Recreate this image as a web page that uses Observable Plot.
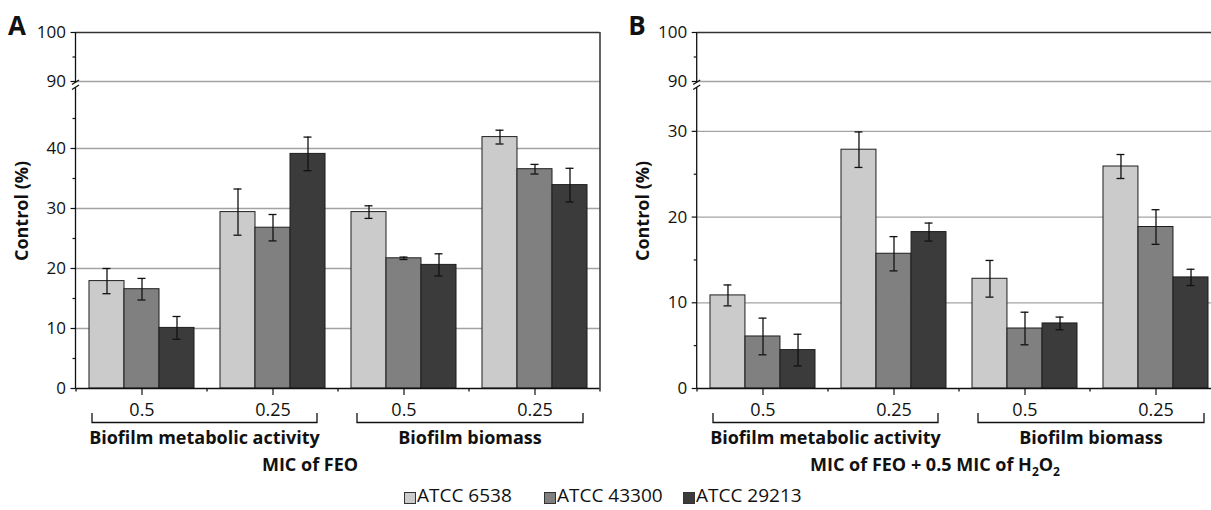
<!DOCTYPE html>
<html>
<head>
<meta charset="utf-8">
<script src="https://cdn.jsdelivr.net/npm/d3@7"></script>
<script src="https://cdn.jsdelivr.net/npm/@observablehq/plot@0.6"></script>
<style>
  body { margin: 0; background: #fff; }
  #wrap { position: relative; width: 1211px; height: 510px; overflow: hidden; font-family: "Open Sans", sans-serif; color: #111; }
  #wrap svg.panel { position: absolute; top: 0; }
  .leg { position: absolute; top: 486px; font-size: 19px; line-height: 19px; white-space: nowrap; color: #111; }
  .leg i { display: inline-block; width: 10px; height: 10px; border: 1px solid #333; vertical-align: -2px; margin-right: 1px; }
</style>
</head>
<body>
<div id="wrap"></div>
<script>
// ---------- data ----------
const strains = ["ATCC 6538", "ATCC 43300", "ATCC 29213"];
const strainColors = ["#cbcbcb", "#808080", "#3b3b3b"];
const assays = ["Biofilm metabolic activity", "Biofilm biomass"];
const mics = ["0.5", "0.25"];
// group order: [metabolic 0.5, metabolic 0.25, biomass 0.5, biomass 0.25]; values per strain
const meanA = [[17.9, 16.55, 10.1], [29.4, 26.8, 39.1], [29.4, 21.7, 20.6], [41.9, 36.55, 33.9]];
const errA  = [[2.1, 1.8, 1.9], [3.85, 2.2, 2.8], [1.05, 0.2, 1.85], [1.15, 0.8, 2.8]];
const meanB = [[10.86, 6.07, 4.48], [27.86, 15.72, 18.25], [12.8, 7.0, 7.59], [25.9, 18.84, 12.96]];
const errB  = [[1.22, 2.14, 1.85], [2.07, 2.0, 1.05], [2.14, 1.9, 0.74], [1.4, 2.02, 0.95]];
const yTicksA = [0, 10, 20, 30, 40, 90, 100];
const yMinorA = [5, 15, 25, 35, 45, 95];
const yGridA = [10, 20, 30, 40, 90];
const yTicksB = [0, 10, 20, 30, 90, 100];
const yMinorB = [5, 15, 25, 95];
const yGridB = [10, 20, 30, 90];
const yLabel = "Control (%)";
const titleA = "MIC of FEO";

// ---------- build ----------
const keys = [];
assays.forEach(a => mics.forEach(m => keys.push(a + "|" + m)));

function buildRows(mean, err) {
  const rows = [];
  keys.forEach((k, gi) => strains.forEach((s, si) => {
    rows.push({key: k, strain: s, si, value: mean[gi][si], err: err[gi][si]});
  }));
  return rows;
}

const wrap = document.getElementById("wrap");

function panel(cfg) {
  const rows = buildRows(cfg.mean, cfg.err);
  const ink = "#111";
  // broken axis: values above the break are compressed into a short top segment
  const lowPx = 300, gapPx = 7, upPxPerUnit = 4.9;
  const unit = lowPx / cfg.lowTop;
  const tf = v => v <= cfg.lowTop ? v : cfg.lowTop + (gapPx + (v - 90) * upPxPerUnit) / unit;
  const tickMap = new Map(cfg.ticks.map(v => [tf(v), v]));

  const plotW = cfg.width - cfg.marginLeft - cfg.marginRight;
  const band = plotW / keys.length;
  const barW = band / (strains.length + 2 * 0.371);
  const pad = (band - barW * strains.length) / 2;
  const capW = 8;

  const perStrain = strains.flatMap((s, i) => {
    const data = rows.filter(d => d.si === i);
    const inL = pad + barW * i, inR = band - pad - barW * (i + 1);
    const cL = inL + (barW - capW) / 2, cR = inR + (barW - capW) / 2;
    const dx = (i - (strains.length - 1) / 2) * barW;
    return [
      Plot.barY(data, {x: "key", y: "value", fill: "strain", stroke: "#1e1e1e", strokeWidth: 1, insetLeft: inL, insetRight: inR}),
      Plot.ruleX(data, {x: "key", y1: d => tf(d.value - d.err), y2: d => tf(d.value + d.err), dx, stroke: ink, strokeWidth: 1.3}),
      Plot.tickY(data, {x: "key", y: d => tf(d.value - d.err), stroke: ink, strokeWidth: 1.3, insetLeft: cL, insetRight: cR}),
      Plot.tickY(data, {x: "key", y: d => tf(d.value + d.err), stroke: ink, strokeWidth: 1.3, insetLeft: cL, insetRight: cR})
    ];
  });

  const plot = Plot.plot({
    width: cfg.width,
    height: 480,
    marginLeft: cfg.marginLeft,
    marginRight: cfg.marginRight,
    marginTop: 32,
    marginBottom: 92,
    style: {fontFamily: "'Open Sans', sans-serif", fontSize: "17px", color: ink, background: "transparent", overflow: "visible"},
    x: {domain: keys, padding: 0, label: null},
    y: {domain: [0, tf(100)], label: null},
    color: {domain: strains, range: strainColors},
    marks: [
      Plot.gridY({ticks: cfg.grid.map(tf), stroke: "#a3a3a3", strokeOpacity: 1, strokeWidth: 1.3}),
      Plot.ruleY([tf(100)], {stroke: "#333", strokeWidth: 1.3}),
      ...perStrain,
      Plot.ruleY([0], {stroke: ink, strokeWidth: 1.3}),
      Plot.axisY({ticks: cfg.ticks.map(tf), tickSize: 5, tickPadding: 5, label: null, fontSize: 17, stroke: ink, strokeWidth: 1.2, tickFormat: d => String(tickMap.get(d))}),
      Plot.axisY({ticks: cfg.minor.map(tf), tickSize: 3, tickPadding: 0, label: null, stroke: ink, strokeWidth: 1.2, tickFormat: () => ""}),
      Plot.axisX({anchor: "bottom", tickSize: 7, tickPadding: 8, label: null, fontSize: 18, stroke: ink, strokeWidth: 1.2, tickFormat: k => k.split("|")[1]})
    ]
  });
  plot.classList.add("panel");
  plot.style.left = cfg.left + "px";
  plot.style.maxWidth = "none";
  wrap.appendChild(plot);

  // ---------- annotations positioned through Plot's scales ----------
  const xs = plot.scale("x"), ys = plot.scale("y");
  const bw = xs.bandwidth;
  const Y = v => ys.apply(tf(v));
  const svg = d3.select(plot);
  const g = svg.append("g").attr("fill", "none").attr("stroke", ink).attr("stroke-width", 1.3);
  const ax = cfg.marginLeft;
  const yTop = Y(100), y90 = Y(90), yLow = Y(cfg.lowTop), y0 = Y(0);
  // broken y axis line
  g.append("line").attr("x1", ax).attr("x2", ax).attr("y1", yTop).attr("y2", y90 + 1.5);
  g.append("line").attr("x1", ax).attr("x2", ax).attr("y1", yLow - 1).attr("y2", y0);
  g.append("line").attr("x1", ax - 3.5).attr("y1", y90 + 3.5).attr("x2", ax + 3.5).attr("y2", y90 - 1);
  g.append("line").attr("x1", ax - 3.5).attr("y1", yLow + 1.5).attr("x2", ax + 3.5).attr("y2", yLow - 3);
  // small ticks at group boundaries
  const edges = keys.map(k => xs.apply(k)).concat([xs.apply(keys[keys.length - 1]) + bw]);
  edges.forEach(x => g.append("line").attr("x1", x).attr("x2", x).attr("y1", y0).attr("y2", y0 + 3.5));
  if (cfg.rightBorder) {
    const xr = edges[edges.length - 1];
    g.append("line").attr("x1", xr).attr("x2", xr).attr("y1", yTop).attr("y2", y0);
  }
  // brackets + assay labels
  const ins = [[16, 21], [19, 17]];
  assays.forEach((a, ai) => {
    const k0 = keys[ai * 2], k1 = keys[ai * 2 + 1];
    const xl = xs.apply(k0) + ins[ai][0];
    const xr = xs.apply(k1) + bw - ins[ai][1];
    g.append("path").attr("d", `M${xl},413V422.5H${xr}V413`).attr("stroke-width", 1.3);
    svg.append("text").attr("x", (xl + xr) / 2).attr("y", 444).attr("text-anchor", "middle")
      .attr("font-size", 18).attr("font-weight", 700).attr("fill", ink).text(a);
  });
  // x title
  const t = svg.append("text").attr("x", cfg.titleX).attr("y", 471).attr("text-anchor", "middle")
    .attr("font-size", 18).attr("font-weight", 700).attr("fill", ink);
  cfg.title(t);
  // y label
  svg.append("text").attr("transform", `translate(${cfg.yLabelX},211) rotate(-90)`)
    .attr("text-anchor", "middle").attr("dominant-baseline", "central")
    .attr("font-size", 18).attr("font-weight", 700).attr("fill", ink).text(yLabel);
  // panel letter
  svg.append("text").attr("x", cfg.letterX).attr("y", 35).attr("font-size", 26).attr("font-weight", 700)
    .attr("fill", ink).text(cfg.letter);
}

panel({
  mean: meanA, err: errA, lowTop: 50, ticks: yTicksA, minor: yMinorA, grid: yGridA,
  width: 605, left: 0, marginLeft: 75.5, marginRight: 5.5, rightBorder: true,
  letter: "A", letterX: 17, yLabelX: 20.5, titleX: 310,
  title: t => t.text(titleA)
});
panel({
  mean: meanB, err: errB, lowTop: 35, ticks: yTicksB, minor: yMinorB, grid: yGridB,
  width: 616, left: 605, marginLeft: 91.7, marginRight: 0, rightBorder: false,
  letter: "B", letterX: 32, yLabelX: 36.7, titleX: 330,
  title: t => {
    t.append("tspan").text("MIC of FEO + 0.5 MIC of H");
    t.append("tspan").attr("dy", 5).attr("font-size", 12).text("2");
    t.append("tspan").attr("dy", -5).text("O");
    t.append("tspan").attr("dy", 5).attr("font-size", 12).text("2");
  }
});

// ---------- legend ----------
const legLeft = [404, 544, 683];
strains.forEach((s, i) => {
  const d = document.createElement("div");
  d.className = "leg";
  d.style.left = legLeft[i] + "px";
  const sw = document.createElement("i");
  sw.style.background = strainColors[i];
  d.appendChild(sw);
  d.appendChild(document.createTextNode(s));
  wrap.appendChild(d);
});
</script>
</body>
</html>
